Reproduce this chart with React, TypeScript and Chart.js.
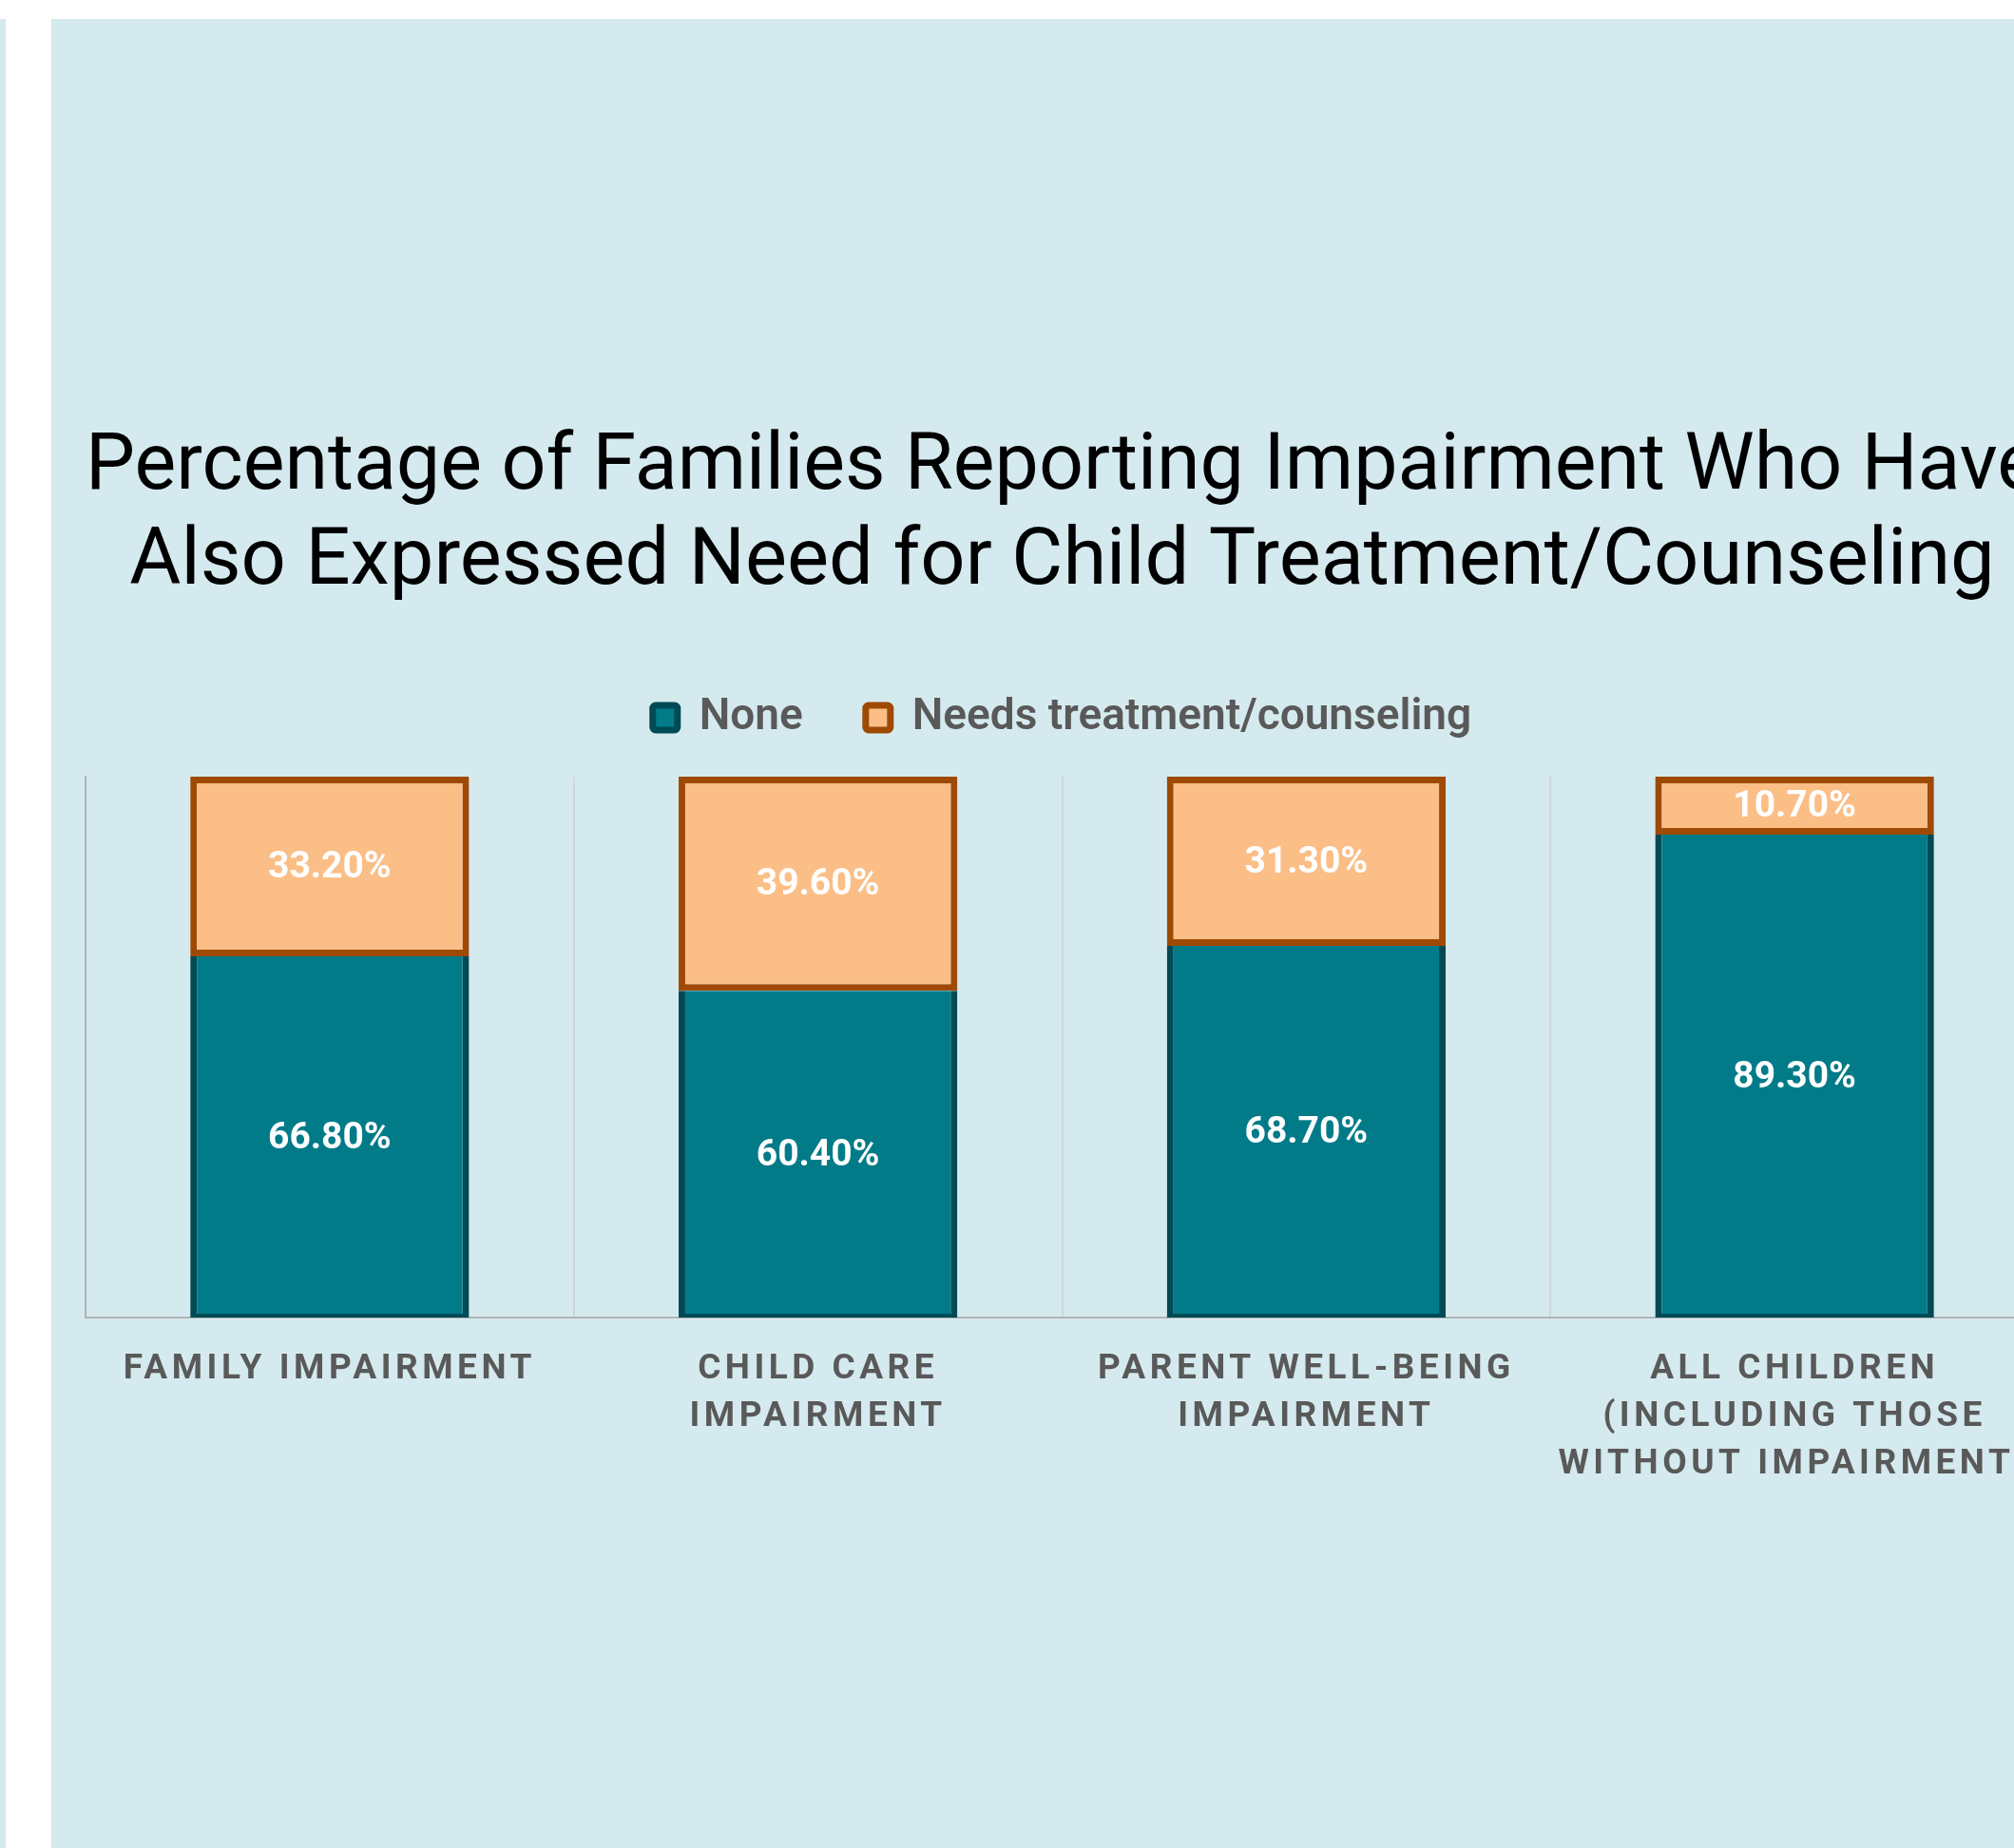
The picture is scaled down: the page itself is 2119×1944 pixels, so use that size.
import React, { useEffect, useRef } from "react";
import { Chart, registerables, CategoryScale } from "chart.js";

Chart.register(...registerables);

class SpacedCategoryScale extends CategoryScale {
  static id = "spacedCategory";
  static defaults = CategoryScale.defaults;
  drawLabels(chartArea: any) {
    const ctx: any = this.ctx;
    ctx.save();
    ctx.letterSpacing = "4.5px";
    super.drawLabels(chartArea);
    ctx.restore();
  }
}
Chart.register(SpacedCategoryScale as any);

const TITLE_LINES = [
  "Percentage of Families Reporting Impairment Who Have",
  "Also Expressed Need for Child Treatment/Counseling",
];
const CATEGORIES = [
  ["FAMILY IMPAIRMENT"],
  ["CHILD CARE", "IMPAIRMENT"],
  ["PARENT WELL-BEING", "IMPAIRMENT"],
  ["ALL CHILDREN", "(INCLUDING THOSE", "WITHOUT IMPAIRMENT)"],
];
const SERIES_NAMES = ["None", "Needs treatment/counseling"];
const NONE_VALUES = [66.8, 60.4, 68.7, 89.3];
const NEEDS_VALUES = [33.2, 39.6, 31.3, 10.7];

const BG = "#D5EAEE";
const TEAL = "#027B89";
const TEAL_DARK = "#004A55";
const ORANGE = "#FBBE87";
const ORANGE_DARK = "#9E4A04";

const valueLabels = {
  id: "valueLabels",
  afterDatasetsDraw(chart: any) {
    const ctx = chart.ctx;
    ctx.save();
    ctx.fillStyle = "#FFFFFF";
    ctx.font = "bold 39px Roboto";
    ctx.textAlign = "center";
    ctx.textBaseline = "middle";
    chart.data.datasets.forEach((ds: any, i: number) => {
      const meta = chart.getDatasetMeta(i);
      if (meta.hidden) return;
      meta.data.forEach((bar: any, j: number) => {
        const { x, y, base } = bar.getProps(["x", "y", "base"], true);
        const v = ds.data[j];
        ctx.fillText(v.toFixed(2) + "%", x, (y + base) / 2 + 2);
      });
    });
    ctx.restore();
  },
};

export default function App() {
  const ref = useRef<HTMLCanvasElement | null>(null);
  useEffect(() => {
    if (!ref.current) return;
    const chart = new Chart(ref.current, {
      type: "bar",
      data: {
        labels: CATEGORIES as any,
        datasets: [
          {
            label: SERIES_NAMES[0],
            data: NONE_VALUES,
            backgroundColor: TEAL,
            borderColor: TEAL_DARK,
            borderWidth: { left: 7, right: 7, bottom: 4, top: 0 } as any,
            borderSkipped: false,
            categoryPercentage: 1,
            barPercentage: 0.571,
          },
          {
            label: SERIES_NAMES[1],
            data: NEEDS_VALUES,
            backgroundColor: ORANGE,
            borderColor: ORANGE_DARK,
            borderWidth: 7,
            borderSkipped: false,
            categoryPercentage: 1,
            barPercentage: 0.571,
          },
        ],
      },
      options: {
        responsive: false,
        animation: false,
        devicePixelRatio: 1,
        layout: { padding: { left: 36, right: 37, top: 0, bottom: 348 } },
        plugins: {
          title: {
            display: true,
            text: TITLE_LINES,
            color: "#000000",
            font: { family: "Roboto", size: 83, weight: "normal", lineHeight: 100 / 83 },
            padding: { top: 423, bottom: 23 },
          },
          legend: {
            display: true,
            position: "top",
            labels: {
              color: "#595959",
              font: { family: "Roboto", size: 46, weight: "600" },
              boxWidth: 26,
              boxHeight: 26,
              padding: 66,
              useBorderRadius: true,
              borderRadius: 3,
              generateLabels(chart: any) {
                const items = Chart.defaults.plugins.legend.labels.generateLabels(chart);
                items.forEach((it: any) => {
                  it.lineWidth = 7;
                });
                return items;
              },
            },
          },
          tooltip: { enabled: false },
        },
        scales: {
          x: {
            type: "spacedCategory" as any,
            stacked: true,
            offset: true,
            grid: { display: true, offset: true, drawTicks: false, color: "#CFD6D9", lineWidth: 2 },
            border: { display: true, color: "#B0B4B6", width: 2 },
            ticks: {
              color: "#595959",
              font: { family: "Roboto", size: 37, weight: "bold", lineHeight: 50 / 37 },
              padding: 30,
              maxRotation: 0,
              autoSkip: false,
            },
          },
          gap: {
            type: "category",
            position: "top",
            display: true,
            grid: { display: false, drawTicks: false },
            border: { display: false },
            ticks: { display: false },
            afterFit(scale: any) {
              scale.height = 29;
            },
          },
          y: {
            stacked: true,
            min: 0,
            max: 100,
            grid: { display: false, drawTicks: false },
            border: { display: true, color: "#B0B4B6", width: 2 },
            ticks: { display: false },
          },
        },
      },
      plugins: [valueLabels],
    } as any);
    return () => chart.destroy();
  }, []);

  return (
    <div style={{ position: "fixed", left: 0, top: 0, width: 2119, height: 1944, overflow: "hidden", background: "#FFFFFF" }}>
      <div style={{ position: "absolute", left: 0, top: 20, width: 6, height: 1924, background: BG }} />
      <div style={{ position: "absolute", left: 54, top: 20, width: 2128, height: 1924, background: BG }}>
        <canvas ref={ref} width={2128} height={1924} style={{ display: "block", width: 2128, height: 1924 }} />
      </div>
    </div>
  );
}
